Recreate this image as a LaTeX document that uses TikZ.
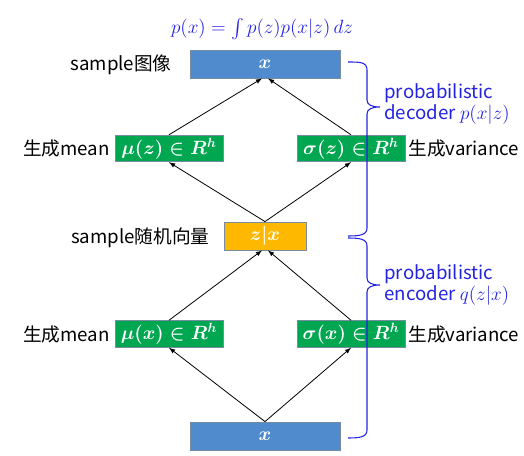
\documentclass[tikz,border=0pt]{standalone}
\usepackage{fontspec}
\setmainfont{Noto Sans CJK SC}
\usepackage{amsmath}
\usetikzlibrary{positioning,calc,arrows}
\definecolor{boxblue}{RGB}{80,140,205}
\definecolor{boxgreen}{RGB}{0,166,80}
\definecolor{boxyellow}{RGB}{255,184,0}
\definecolor{boxline}{RGB}{120,140,160}
\definecolor{noteblue}{RGB}{35,35,225}
\tikzstyle{layer}=[draw=boxline,fill=boxblue,text=white,minimum width=112.5pt,minimum height=21pt,inner sep=0pt,font=\fontsize{14}{16}\selectfont\boldmath]
\tikzstyle{param}=[layer,fill=boxgreen,minimum width=81pt,minimum height=20pt]
\tikzstyle{latent}=[layer,fill=boxyellow,minimum width=61.5pt]
\tikzstyle{lab}=[font=\fontsize{14}{16}\selectfont,inner sep=0pt]
\tikzstyle{note}=[text=noteblue,font=\fontsize{14}{16}\selectfont,align=left,inner sep=0pt]
\tikzstyle{brace}=[draw=noteblue,thick]
\newcommand{\newBox}[4]{\node[#3](#1) at #4 {#2};}
\newcommand{\newArrow}[2]{\draw[->] (#1) -- (#2);}
\begin{document}
\begin{tikzpicture}[x=0.75pt,y=-0.75pt,>=latex,semithick]
  \useasboundingbox (0,0) rectangle (524,456);
  \clip (0,0) rectangle (524,456);
  % boxes
  \newBox{xtop}{$x$}{layer}{(265,64)}
  \newBox{muz}{$\mu(z)\in R^h$}{param}{(169,148.5)}
  \newBox{sigz}{$\sigma(z)\in R^h$}{param}{(351,148.5)}
  \newBox{zx}{$z|x$}{latent}{(265,236)}
  \newBox{mux}{$\mu(x)\in R^h$}{param}{(169,334)}
  \newBox{sigx}{$\sigma(x)\in R^h$}{param}{(351,334)}
  \newBox{xbot}{$x$}{layer}{(265,436)}
  % labels
  \node[text=noteblue,font=\fontsize{15}{18}\selectfont,inner sep=0pt] (pxeq) at (262,29) {$p(x)=\int p(z)p(x|z)\,dz$};
  \node[lab,anchor=east] (lxtop) at (172,65) {sample图像};
  \node[lab,anchor=east] (lmuz) at (110,148.5) {生成mean};
  \node[lab,anchor=west] (lsigz) at (408,148.5) {生成variance};
  \node[lab,anchor=east] (lzx) at (210,238) {sample随机向量};
  \node[lab,anchor=east] (lmux) at (110,334) {生成mean};
  \node[lab,anchor=west] (lsigx) at (408,334) {生成variance};
  \node[note,anchor=west] (dec) at (384,104) {probabilistic\\decoder $p(x|z)$};
  \node[note,anchor=west] (enc) at (384,285) {probabilistic\\encoder $q(z|x)$};
  \node[text=noteblue,font=\fontsize{10}{12}\selectfont,anchor=north] (cite) at (320,452) {Kingma DP, Welling M. Auto-encoding variational bayes. ICLR 2014};
  % arrows
  \newArrow{xbot.north}{$(mux.south)$}
  \newArrow{xbot.north}{$(sigx.south)$}
  \newArrow{mux.north}{$(zx.south)+(-3,0)$}
  \newArrow{sigx.north}{$(zx.south)+(3,0)$}
  \newArrow{zx.north}{muz.south}
  \newArrow{zx.north}{sigz.south}
  \newArrow{muz.north}{$(xtop.south)+(-3,0)$}
  \newArrow{sigz.north}{$(xtop.south)+(3,0)$}
  % braces
  \draw[brace] (348,62) .. controls (360,62) and (367,62) .. (367,70) -- (367,100)
    .. controls (367,105) and (372,107) .. (380,107)
    .. controls (372,107) and (367,109) .. (367,114) -- (367,228)
    .. controls (367,235) and (360,236) .. (348,236);
  \draw[brace] (348,238) .. controls (360,238) and (367,239) .. (367,246) -- (367,278)
    .. controls (367,283) and (372,285) .. (380,285)
    .. controls (372,285) and (367,287) .. (367,292) -- (367,430)
    .. controls (367,437) and (360,438) .. (348,438);
\end{tikzpicture}
\end{document}
